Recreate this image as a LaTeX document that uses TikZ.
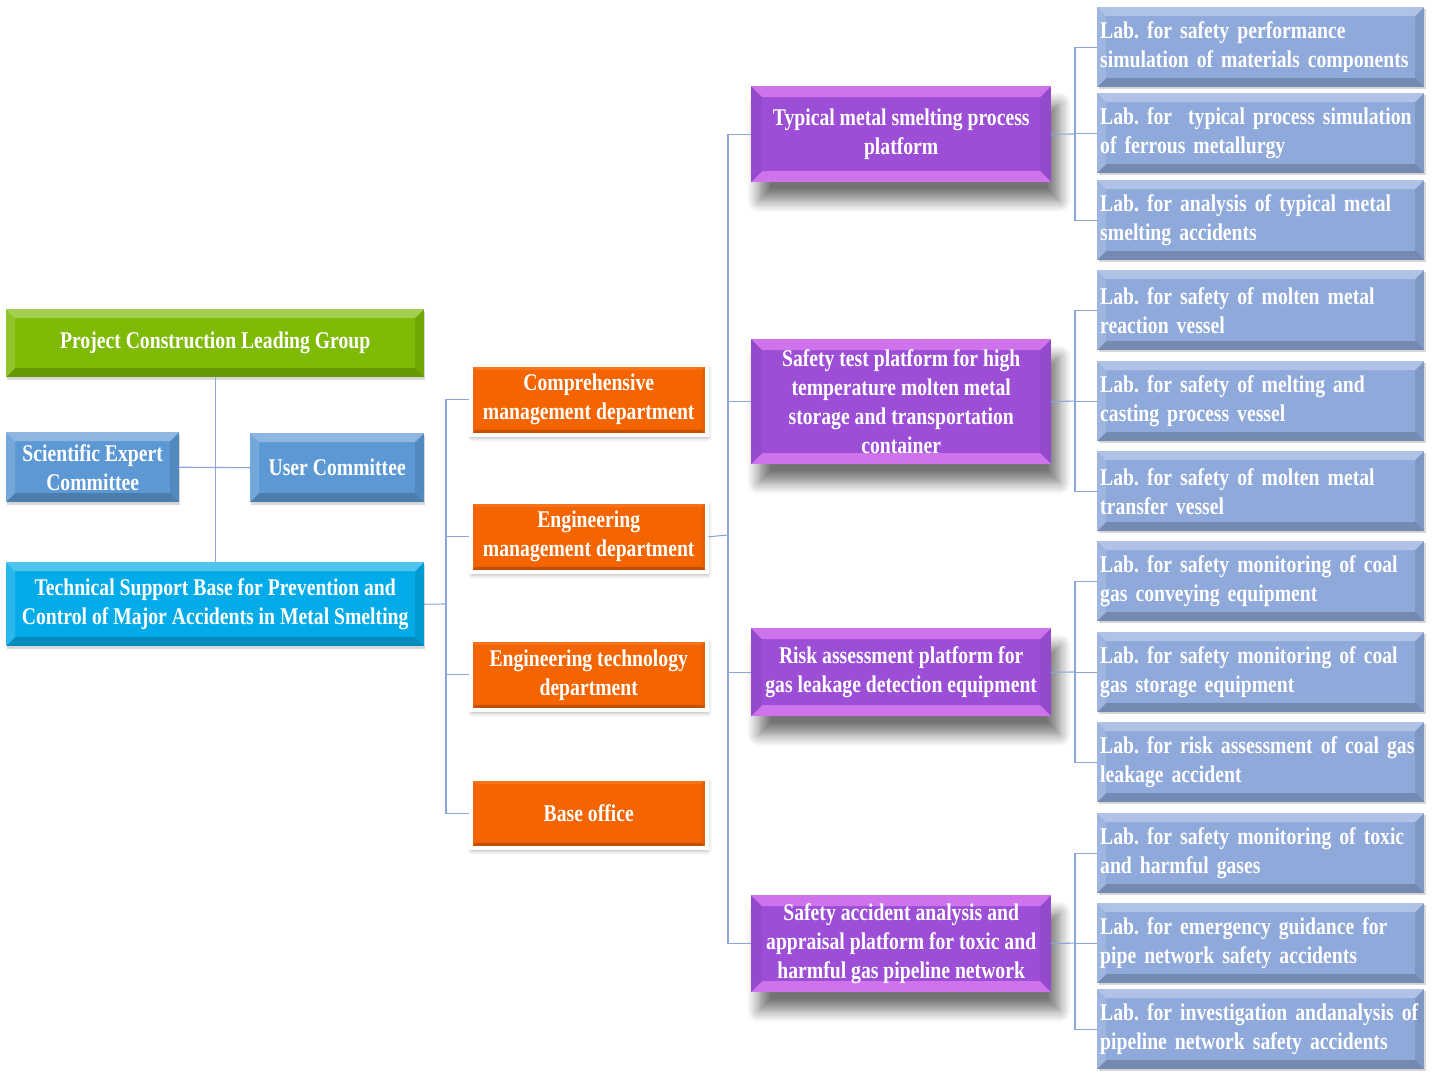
\documentclass[tikz,border=0pt]{standalone}
\usepackage{fontspec}
\setmainfont{Liberation Serif}[FakeStretch=0.82]
\usetikzlibrary{calc,shadows,shadows.blur}
\definecolor{cgreen}{RGB}{126,186,6}
\definecolor{cblue}{RGB}{92,153,212}
\definecolor{ccyan}{RGB}{3,172,232}
\definecolor{corange}{RGB}{244,100,0}
\definecolor{cpurple}{RGB}{157,78,215}
\definecolor{cpink}{RGB}{240,140,250}
\definecolor{clab}{RGB}{142,169,218}
\definecolor{cline}{RGB}{140,165,220}
\begin{document}
\begin{tikzpicture}[x=1pt,y=-1pt,
  conn/.style={draw=cline,line width=1.1pt},
  bevel/.style={path picture={
    \fill[white,opacity=0.30] (path picture bounding box.north west) -- (path picture bounding box.north east) -- ($(path picture bounding box.north east)+(-9,9)$) -- ($(path picture bounding box.north west)+(9,9)$) -- cycle;
    \fill[white,opacity=0.15] (path picture bounding box.north west) -- (path picture bounding box.south west) -- ($(path picture bounding box.south west)+(9,-9)$) -- ($(path picture bounding box.north west)+(9,9)$) -- cycle;
    \fill[black,opacity=0.18] (path picture bounding box.south west) -- (path picture bounding box.south east) -- ($(path picture bounding box.south east)+(-9,-9)$) -- ($(path picture bounding box.south west)+(9,-9)$) -- cycle;
    \fill[black,opacity=0.10] (path picture bounding box.north east) -- (path picture bounding box.south east) -- ($(path picture bounding box.south east)+(-9,-9)$) -- ($(path picture bounding box.north east)+(-9,9)$) -- cycle;
  }},
  obevel/.style={path picture={
    \fill[white,opacity=0.10] (path picture bounding box.north west) -- (path picture bounding box.north east) -- ($(path picture bounding box.north east)+(-5,5)$) -- ($(path picture bounding box.north west)+(5,5)$) -- cycle;
    \fill[black,opacity=0.20] (path picture bounding box.south west) -- (path picture bounding box.south east) -- ($(path picture bounding box.south east)+(-5,-5)$) -- ($(path picture bounding box.south west)+(5,-5)$) -- cycle;
    \fill[black,opacity=0.06] (path picture bounding box.north east) -- (path picture bounding box.south east) -- ($(path picture bounding box.south east)+(-5,-5)$) -- ($(path picture bounding box.north east)+(-5,5)$) -- cycle;
  }},
  pbevel/.style={path picture={
    \fill[cpink,opacity=0.6] (path picture bounding box.north west) -- (path picture bounding box.north east) -- ($(path picture bounding box.north east)+(-11,11)$) -- ($(path picture bounding box.north west)+(11,11)$) -- cycle;
    \fill[cpink,opacity=0.6] (path picture bounding box.south west) -- (path picture bounding box.south east) -- ($(path picture bounding box.south east)+(-11,-11)$) -- ($(path picture bounding box.south west)+(11,-11)$) -- cycle;
    \fill[black,opacity=0.05] (path picture bounding box.north west) -- (path picture bounding box.south west) -- ($(path picture bounding box.south west)+(11,-11)$) -- ($(path picture bounding box.north west)+(11,11)$) -- cycle;
    \fill[black,opacity=0.05] (path picture bounding box.north east) -- (path picture bounding box.south east) -- ($(path picture bounding box.south east)+(-11,-11)$) -- ($(path picture bounding box.north east)+(-11,11)$) -- cycle;
  }},
  box/.style={anchor=north west,inner sep=0pt,align=center,text=white,
    font=\frenchspacing\bfseries\fontsize{24}{29}\selectfont},
  lbox/.style={box,fill=cgreen,bevel,drop shadow={shadow xshift=1pt,shadow yshift=-3pt,opacity=0.3}},
  obox/.style={box,fill=corange,draw=white,line width=3.5pt,obevel,minimum width=236,minimum height=70,
    blur shadow={shadow xshift=1pt,shadow yshift=-3pt,shadow blur radius=4pt,shadow opacity=35}},
  pbox/.style={box,fill=cpurple,pbevel,minimum width=300,
    blur shadow={shadow xshift=8pt,shadow yshift=-18pt,shadow blur radius=12pt,shadow blur steps=10,shadow opacity=55}},
  labbox/.style={box,fill=clab,bevel,align=left,minimum width=327,minimum height=80,
    text width=321,inner xsep=3pt,
    drop shadow={shadow xshift=2pt,shadow yshift=-2pt,opacity=0.3}}
]
\useasboundingbox (0,0) rectangle (1440,1080);

% left column
\node[lbox,fill=cgreen,minimum width=418,minimum height=68] (g) at (6,309) {Project Construction Leading Group};
\node[lbox,fill=cblue,minimum width=173,minimum height=70] (s) at (6,432) {Scientific Expert\\Committee};
\node[lbox,fill=cblue,minimum width=174,minimum height=69] (u) at (250,433) {User Committee};
\node[lbox,fill=ccyan,minimum width=418,minimum height=84] (t) at (6,562) {Technical Support Base for Prevention and\\Control of Major Accidents in Metal Smelting};

% departments
\node[obox] (o1) at (469,363) {Comprehensive\\management department};
\node[obox] (o2) at (469,500) {Engineering\\management department};
\node[obox] (o3) at (469,638) {Engineering technology\\department};
\node[obox,minimum height=69] (o4) at (469,777) {Base office};

% platforms
\node[pbox,minimum height=96] (p1) at (751,86) {Typical metal smelting process\\platform};
\node[pbox,minimum height=125] (p2) at (751,339) {Safety test platform for high\\temperature molten metal\\storage and transportation\\container};
\node[pbox,minimum height=88] (p3) at (751,628) {Risk assessment platform for\\gas leakage detection equipment};
\node[pbox,minimum height=97] (p4) at (751,895) {Safety accident analysis and\\appraisal platform for toxic and\\harmful gas pipeline network};

% labs
\node[labbox] (l1) at (1097,7) {Lab. for safety performance\\simulation of materials components};
\node[labbox] (l2) at (1097,93) {Lab. for\ \ typical process simulation\\of ferrous metallurgy};
\node[labbox] (l3) at (1097,180) {Lab. for analysis of typical metal\\smelting accidents};
\node[labbox] (l4) at (1097,270) {Lab. for safety of molten metal\\reaction vessel};
\node[labbox] (l5) at (1097,361) {Lab. for safety of melting and\\casting process vessel};
\node[labbox] (l6) at (1097,451) {Lab. for safety of molten metal\\transfer vessel};
\node[labbox] (l7) at (1097,541) {Lab. for safety monitoring of coal\\gas conveying equipment};
\node[labbox] (l8) at (1097,632) {Lab. for safety monitoring of coal\\gas storage equipment};
\node[labbox] (l9) at (1097,722) {Lab. for risk assessment of coal gas\\leakage accident};
\node[labbox] (l10) at (1097,813) {Lab. for safety monitoring of toxic\\and harmful gases};
\node[labbox] (l11) at (1097,903) {Lab. for emergency guidance for\\pipe network safety accidents};
\node[labbox] (l12) at (1097,989) {Lab. for investigation andanalysis of\\pipeline network safety accidents};

% connectors
\draw[conn] (g.south) -- (t.north);
\draw[conn] (s.east) -- (u.west);
\coordinate (j1) at (446,604);
\draw[conn] (t.east) -- (j1);
\foreach \n in {o1,o2,o3,o4} \draw[conn] (j1) |- (\n.west);
\coordinate (j2) at (728,535);
\draw[conn] (o2.east) -- (j2);
\foreach \n in {p1,p2,p3,p4} \draw[conn] (j2) |- (\n.west);
\coordinate (k1) at (1075,134);
\draw[conn] (p1.east) -- (k1);
\foreach \n in {l1,l2,l3} \draw[conn] (k1) |- (\n.west);
\coordinate (k2) at (1075,401);
\draw[conn] (p2.east) -- (k2);
\foreach \n in {l4,l5,l6} \draw[conn] (k2) |- (\n.west);
\coordinate (k3) at (1075,672);
\draw[conn] (p3.east) -- (k3);
\foreach \n in {l7,l8,l9} \draw[conn] (k3) |- (\n.west);
\coordinate (k4) at (1075,943);
\draw[conn] (p4.east) -- (k4);
\foreach \n in {l10,l11,l12} \draw[conn] (k4) |- (\n.west);
\end{tikzpicture}
\end{document}
